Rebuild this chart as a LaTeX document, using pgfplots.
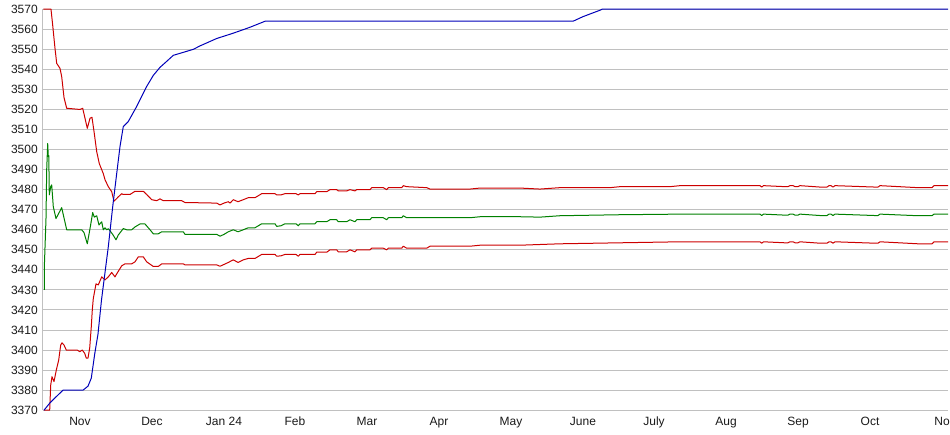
\documentclass[border=0pt]{standalone}
\usepackage{pgfplots}
\pgfplotsset{compat=1.18}
\usepackage{fontspec}
\setmainfont{Liberation Sans}
\definecolor{gridgray}{HTML}{C0C0C0}
\definecolor{cred}{HTML}{CC0000}
\definecolor{cgreen}{HTML}{008000}
\definecolor{cblue}{HTML}{0000B8}
\definecolor{ctext}{HTML}{1A1A1A}
\begin{document}
\begin{tikzpicture}[x=0.75pt,y=0.75pt]
\begin{axis}[
  width=678.75pt, height=300.75pt, scale only axis,
  xmin=43, xmax=948, ymin=3370, ymax=3570,
  clip=false,
  axis x line*=bottom, axis y line*=left,
  axis line style={gridgray, line width=0.75pt, -},
  ytick={3370,3380,...,3570},
  ymajorgrids, grid style={gridgray, line width=0.75pt},
  xtick={80,152,224,295,367,439,511,583,654,726,798,870,942},
  xticklabels={Nov,Dec,Jan 24,Feb,Mar,Apr,May,June,July,Aug,Sep,Oct,No},
  major tick length=0pt,
  /pgf/number format/assume math mode=true,
  /pgf/number format/1000 sep={},
  tick label style={font=\fontsize{9}{10}\selectfont, text=ctext, inner sep=0pt},
  yticklabel style={anchor=east, xshift=-3.75pt},
  xticklabel style={anchor=base, yshift=-11.25pt},
  every axis plot/.append style={line width=0.75pt, line join=round},
]
% upper red
\addplot[cred] coordinates {
(43.5,3570) (51,3570) (52.7,3562) (55,3550.5) (56.7,3543) (60,3540.5) (61.7,3536.4) (64,3526) (66.7,3520.6)
(80,3520) (82.7,3520.6) (87.3,3510.6) (90,3515.6) (92,3516.1) (94.3,3508) (96.7,3499) (99.3,3493) (103.3,3488)
(105,3485) (108.3,3481.5) (111.7,3479) (114,3474.2) (118.3,3476.4) (121.7,3478) (123.3,3477.6) (130,3477.6)
(135,3479.2) (143.3,3479.2) (146.7,3477.6) (151.7,3475) (156.7,3474.5) (160,3475.4) (163.3,3474.5) (181.7,3474.5)
(185,3473.6) (216.7,3473.3) (220,3472.4) (224,3473.3) (228.3,3474) (230,3473.3) (233.3,3475) (238,3474)
(243.3,3475) (248.3,3476) (255,3476) (261.7,3478) (275,3478) (276.7,3477.4) (281,3477.4) (285,3478) (296,3478)
(298.3,3477.4) (300,3478) (315,3478) (316.7,3479) (326.7,3479) (330,3480) (336.7,3480) (338.3,3479.4) (346.7,3479.4)
(350,3480) (355,3479.4) (356.7,3480) (370,3480) (371.7,3481) (383.3,3481) (386.7,3480) (388.3,3481) (401.7,3481)
(403.3,3482) (406.7,3481.5) (426.7,3481) (430,3480.3) (470,3480.3) (480,3480.8) (520,3480.8) (540,3480.3)
(560,3481) (610,3481) (620,3481.5) (670,3481.5) (680,3482) (760,3482) (761.7,3481.3) (763.5,3482)
(785,3481.5) (788,3481.5) (790,3482) (793,3482) (795,3481.5) (798,3481.5) (800,3482) (820,3481.3) (827,3481.3)
(829,3482) (831,3482) (833,3481.3) (835,3482) (875,3481.3) (878,3481.3) (880,3482) (918,3481) (932,3481)
(934,3482) (948,3482)
};
% green
\addplot[cgreen] coordinates {
(44.3,3430) (44.3,3441) (46,3465.6) (46.7,3490) (47.7,3503) (48.3,3496.5) (48.8,3497) (49.3,3477.4) (50.7,3481.5)
(51.7,3482.4) (53.3,3471.5) (56,3465.6) (61.7,3471) (66.7,3460) (81.7,3460) (84,3458.6) (87.3,3453) (90.5,3462)
(92.7,3468.6) (94.3,3466.3) (96.7,3467) (99,3462.4) (101.7,3464) (103.3,3460) (105,3461) (106.7,3460)
(108.5,3460.5) (110.7,3459) (112.7,3457.7) (116,3455) (118.3,3457.4) (123.3,3460.6) (126.7,3460) (131.7,3460)
(135,3461.4) (140,3462.9) (145,3462.9) (150,3460) (153.3,3458) (158.3,3458) (161.7,3459) (183.3,3459)
(185,3457.7) (216.7,3457.7) (220,3456.8) (224,3457.7) (228.3,3459) (233.3,3460) (238,3459) (243.3,3460)
(248.3,3461) (255,3461) (261.7,3463) (275,3463) (276.7,3461.7) (281,3462) (285,3463) (296,3463) (298.3,3462)
(300,3463) (315,3463) (316.7,3464) (326.7,3464) (330,3465) (336.7,3465) (338.3,3464) (346.7,3464) (350,3465)
(355,3464) (356.7,3465) (370,3465) (371.7,3466) (383.3,3466) (386.7,3465) (388.3,3466) (401.7,3466)
(403.3,3467) (406.7,3466) (426.7,3466) (430,3466) (470,3466) (480,3466.5) (520,3466.5) (540,3466.3)
(560,3467) (620,3467.5) (680,3467.8) (760,3467.8) (761.7,3467.1) (763.5,3467.8)
(785,3467.3) (788,3467.3) (790,3467.8) (793,3467.8) (795,3467.3) (798,3467.3) (800,3467.8) (820,3467.1) (827,3467.1)
(829,3467.8) (831,3467.8) (833,3467.1) (835,3467.8) (875,3467.1) (878,3467.1) (880,3467.8) (918,3467.0) (932,3467.0)
(934,3467.8) (948,3467.8)
};
% lower red
\addplot[cred] coordinates {
(44,3370) (49.7,3370) (50.7,3382.5) (52,3386.7) (54,3384.3) (56.3,3390) (58.7,3395) (60.7,3402.5) (62,3403.6)
(64,3402.5) (66.3,3400) (77.3,3400) (79.7,3399.2) (82.3,3400) (84.7,3398.4) (86.3,3396) (88,3396) (89.7,3401)
(91.3,3411.7) (92.3,3420) (93.3,3425.7) (96,3433) (98.3,3432.5) (101.7,3436.5) (105,3435) (108.3,3436.5)
(111.7,3438.7) (115,3436.5) (116.7,3438) (121.7,3442) (125,3443) (131.7,3443) (135,3444) (138.3,3446.5)
(143.3,3446.5) (146.7,3444) (153.3,3441.7) (158.3,3441.7) (161.7,3443) (183.3,3443) (185,3442.5) (216.7,3442.5)
(220,3441.8) (224,3442.7) (228.3,3443.7) (233.3,3445) (238,3443.7) (243.3,3445) (248.3,3445.7) (255,3445.7)
(261.7,3447.7) (275,3447.7) (276.7,3446.8) (281,3447) (285,3447.7) (296,3447.7) (298.3,3446.8) (300,3447.7)
(315,3447.7) (316.7,3448.8) (326.7,3448.8) (330,3450) (336.7,3450) (338.3,3449) (346.7,3449) (350,3450)
(355,3449) (356.7,3450) (370,3450) (371.7,3450.8) (383.3,3450.8) (386.7,3450) (388.3,3450.8) (401.7,3450.8)
(403.3,3451.8) (406.7,3450.8) (426.7,3450.8) (430,3451.8) (470,3451.8) (480,3452.3) (520,3452.3) (560,3453)
(620,3453.5) (680,3454) (760,3454) (761.7,3453.3) (763.5,3454)
(785,3453.5) (788,3453.5) (790,3454) (793,3454) (795,3453.5) (798,3453.5) (800,3454) (820,3453.3) (827,3453.3)
(829,3454) (831,3454) (833,3453.3) (835,3454) (875,3453.3) (878,3453.3) (880,3454) (918,3453) (932,3453)
(934,3454) (948,3454)
};
% blue
\addplot[cblue] coordinates {
(44,3370) (49.7,3373.5) (54.7,3376) (63,3380) (83,3380) (88,3382) (91.3,3386) (94.7,3398) (98,3408)
(101.5,3425) (108.3,3451.5) (112.7,3471.5) (116.7,3488) (120,3501.5) (123.3,3511.5) (128.3,3514)
(136.7,3521.5) (146.7,3531.5) (153.3,3537) (160,3541) (166.7,3544) (173.3,3547) (180,3548) (186.7,3549)
(193.3,3550) (200,3551.7) (216.7,3555.4) (233,3558) (250,3561) (265,3564) (573,3564) (583,3566.3)
(600,3569.5) (602,3570) (948,3570)
};
\coordinate (bl) at (axis cs:0,3357.7);
\coordinate (tr) at (axis cs:950,3574.6);
\end{axis}
\pgfresetboundingbox
\path (bl) rectangle (tr);
\end{tikzpicture}
\end{document}
